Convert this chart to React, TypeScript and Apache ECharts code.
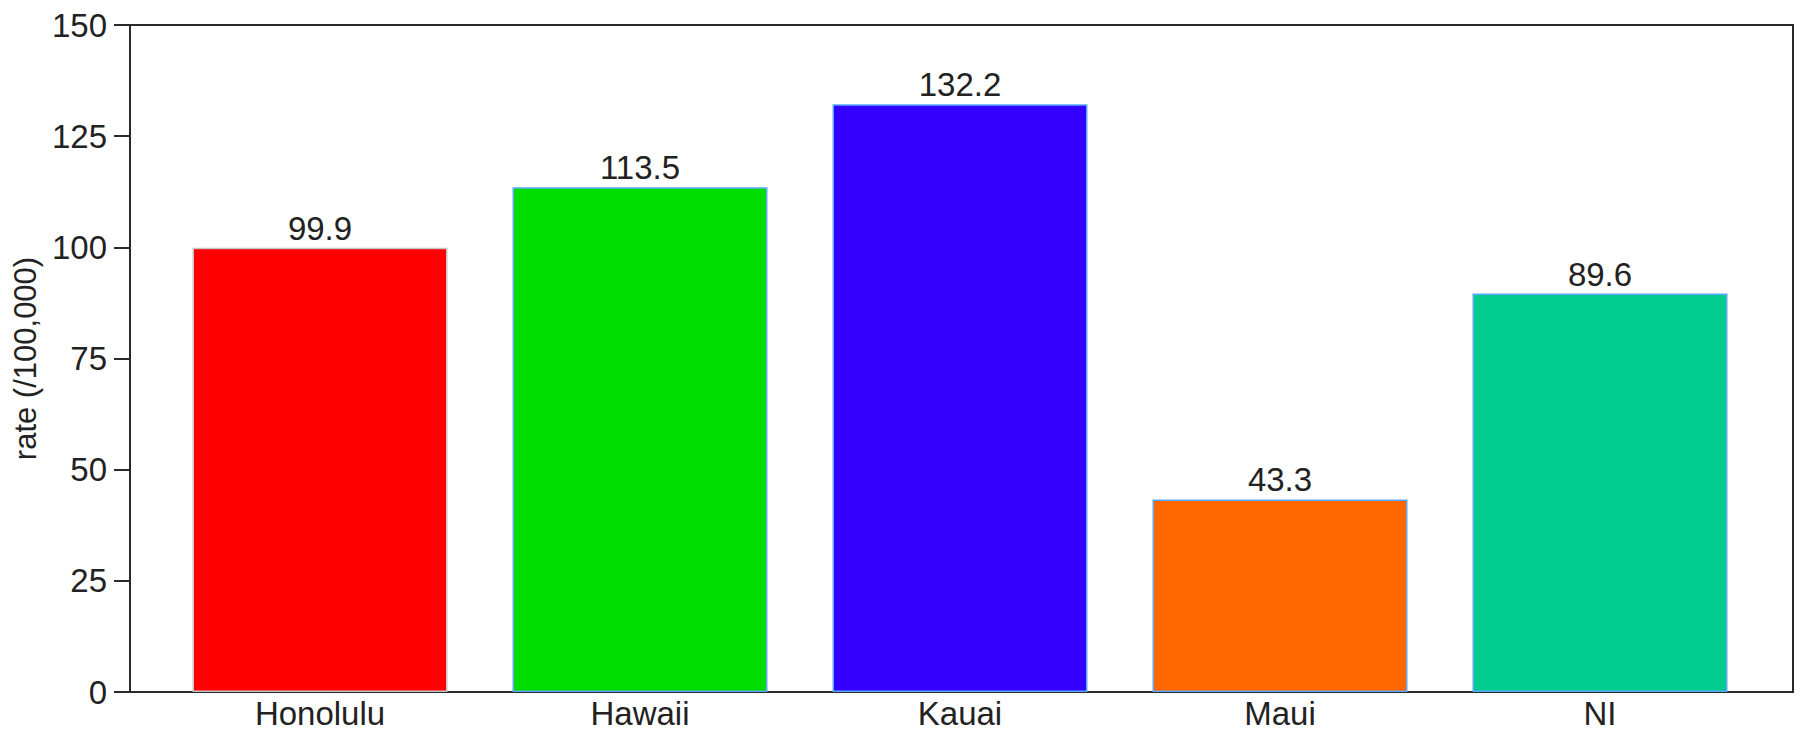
import React, { useEffect, useRef } from "react";
import * as echarts from "echarts";

const categories = ["Honolulu", "Hawaii", "Kauai", "Maui", "NI"];
const values = [99.9, 113.5, 132.2, 43.3, 89.6];
const barColors = ["#ff0000", "#00dd00", "#3300ff", "#ff6600", "#00cc8f"];
const barBorders = ["#c4c4c4", "#5aa8ff", "#5aa8ff", "#5aa8ff", "#5aa8ff"];
const yTicks = [0, 25, 50, 75, 100, 125, 150];

const FONT = "'Liberation Sans', Arial, sans-serif";

export default function App() {
  const ref = useRef<HTMLDivElement>(null);
  useEffect(() => {
    if (!ref.current) return;
    const chart = echarts.init(ref.current, undefined, { renderer: "svg" });
    chart.setOption({
      animation: false,
      backgroundColor: "#ffffff",
      textStyle: { fontFamily: FONT },
      grid: [
        {
          left: 130,
          top: 25,
          width: 1663,
          height: 667,
          show: true,
          borderColor: "#2a2a2a",
          borderWidth: 2,
          backgroundColor: "transparent",
        },
        { left: 160, top: 25, width: 1600, height: 667 },
      ],
      xAxis: [
        { type: "value", gridIndex: 0, show: false, min: 0, max: 1 },
        {
          type: "category",
          gridIndex: 1,
          data: categories,
          axisLine: { show: false },
          axisTick: { show: false },
          axisLabel: {
            color: "#222",
            fontSize: 33,
            fontFamily: FONT,
            margin: 5,
          },
        },
      ],
      yAxis: [
        {
          type: "value",
          gridIndex: 0,
          min: 0,
          max: yTicks[yTicks.length - 1],
          interval: yTicks[1] - yTicks[0],
          name: "rate (/100,000)",
          nameLocation: "middle",
          nameGap: 88,
          nameTextStyle: { color: "#222", fontSize: 31, fontFamily: FONT },
          axisLine: { show: true, lineStyle: { color: "#2a2a2a", width: 2 } },
          axisTick: { show: true, length: 16, lineStyle: { color: "#2a2a2a", width: 2 } },
          axisLabel: { color: "#222", fontSize: 33, fontFamily: FONT, margin: 23 },
          splitLine: { show: false },
        },
        {
          type: "value",
          gridIndex: 1,
          min: 0,
          max: yTicks[yTicks.length - 1],
          show: false,
        },
      ],
      series: [
        {
          type: "bar",
          xAxisIndex: 1,
          yAxisIndex: 1,
          barWidth: 255,
          data: values.map((v, i) => ({
            value: v,
            itemStyle: {
              color: barColors[i],
              borderColor: barBorders[i],
              borderWidth: 1.5,
            },
          })),
          label: {
            show: true,
            position: "top",
            distance: 3,
            color: "#222",
            fontSize: 33,
            fontFamily: FONT,
            formatter: (p: any) => p.value.toFixed(1),
          },
        },
      ],
    });
    return () => chart.dispose();
  }, []);
  return (
    <div
      ref={ref}
      style={{ position: "fixed", left: 0, top: 0, width: 1800, height: 732 }}
    />
  );
}
